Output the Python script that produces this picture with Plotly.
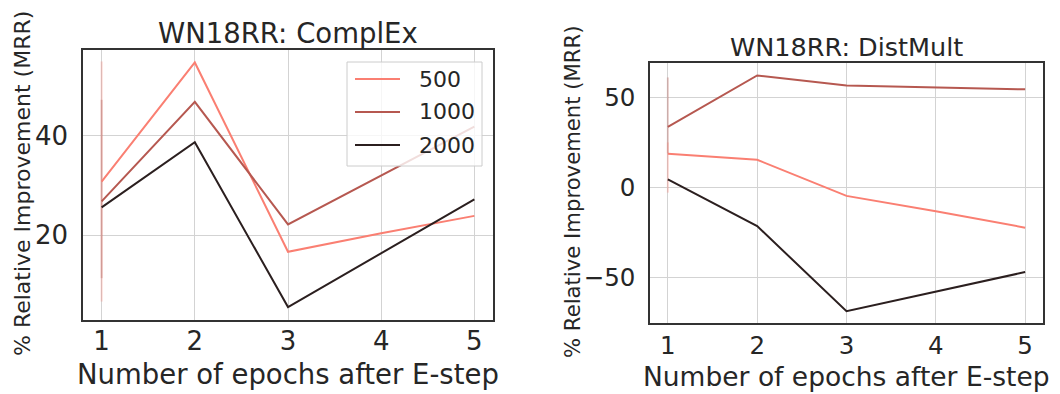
import plotly.graph_objects as go

epochs = [1, 2, 3, 4, 5]
series_names = ["500", "1000", "2000"]
colors = ["#fa7f72", "#b65850", "#2b1f1f"]

complex_vals = {
    "500": [30.8, 54.7, 16.7, 20.4, 23.9],
    "1000": [26.8, 46.8, 22.2, 32.0, 41.8],
    "2000": [25.6, 38.7, 5.6, 16.4, 27.2],
}
complex_err = {"500": [6.7, 54.9], "1000": [11.4, 47.2]}

distmult_vals = {
    "500": [18.7, 15.4, -4.6, -13.1, -22.2],
    "1000": [33.6, 62.1, 56.5, 55.4, 54.4],
    "2000": [4.6, -21.3, -68.5, -57.8, -46.8],
}
distmult_err = {"1000": [19.0, 61.0], "500": [-2.8, 25.0]}

titles = ["WN18RR: ComplEx", "WN18RR: DistMult"]
x_label = "Number of epochs after E-step"
y_label = "% Relative Improvement (MRR)"

W, H = 1060, 394
TXT = "#262626"
fig = go.Figure()

for name, rng in complex_err.items():
    c = colors[series_names.index(name)]
    fig.add_trace(go.Scatter(x=[1, 1], y=rng, mode="lines", line=dict(color=c, width=2),
                             opacity=0.3, showlegend=False, hoverinfo="skip", xaxis="x", yaxis="y"))
for name, rng in distmult_err.items():
    c = colors[series_names.index(name)]
    fig.add_trace(go.Scatter(x=[1, 1], y=rng, mode="lines", line=dict(color=c, width=2),
                             opacity=0.3, showlegend=False, hoverinfo="skip", xaxis="x2", yaxis="y2"))

for name, c in zip(series_names, colors):
    fig.add_trace(go.Scatter(x=epochs, y=complex_vals[name], mode="lines", name=name,
                             line=dict(color=c, width=2), xaxis="x", yaxis="y", showlegend=False))
for name, c in zip(series_names, colors):
    fig.add_trace(go.Scatter(x=epochs, y=distmult_vals[name], mode="lines", name=name,
                             line=dict(color=c, width=2), xaxis="x2", yaxis="y2", showlegend=False))


def ax(size, standoff):
    return dict(showline=True, mirror=True, linecolor="#333333", linewidth=1.5,
                showgrid=True, gridcolor="#d3d3d3", gridwidth=1, zeroline=False,
                ticks="", ticklabelstandoff=standoff,
                tickfont=dict(family="DejaVu Sans", size=size, color=TXT))


L = dict(x0=83, x1=493, y0=50, y1=320)
R = dict(x0=650, x1=1043, y0=63, y1=323)

fig.update_layout(
    width=W, height=H, margin=dict(l=0, r=0, t=0, b=0),
    plot_bgcolor="white", paper_bgcolor="white",
    font=dict(family="DejaVu Sans", color=TXT),
    xaxis=dict(domain=[L["x0"] / W, L["x1"] / W], range=[0.8, 5.2], tickvals=epochs,
               anchor="y", **ax(26, -3)),
    yaxis=dict(domain=[1 - L["y1"] / H, 1 - L["y0"] / H], range=[3.0, 57.2], tickvals=[20, 40],
               anchor="x", **ax(26, 8)),
    xaxis2=dict(domain=[R["x0"] / W, R["x1"] / W], range=[0.8, 5.2], tickvals=epochs,
                anchor="y2", **ax(24.5, 0)),
    yaxis2=dict(domain=[1 - R["y1"] / H, 1 - R["y0"] / H], range=[-75, 69], tickvals=[-50, 0, 50],
                anchor="x2", **ax(24.5, 8)),
    showlegend=False,
)

ann = []
shapes = []
for t, P, cy, ts, xs, xy in [(titles[0], L, 33, 27.5, 27.5, 374), (titles[1], R, 47, 25.5, 26.5, 376)]:
    ann.append(dict(text=t, x=(P["x0"] + P["x1"]) / 2 / W, y=1 - cy / H, xref="paper", yref="paper",
                    xanchor="center", yanchor="middle", showarrow=False,
                    font=dict(size=ts, family="DejaVu Sans", color=TXT)))
    ann.append(dict(text=x_label, x=(P["x0"] + P["x1"]) / 2 / W, y=1 - xy / H, xref="paper", yref="paper",
                    xanchor="center", yanchor="middle", showarrow=False,
                    font=dict(size=xs, family="DejaVu Sans", color=TXT)))
for cx, cy, fs in [(22, 184, 22), (572, 192, 21.2)]:
    ann.append(dict(text=y_label, x=cx / W, y=1 - cy / H, xref="paper", yref="paper",
                    xanchor="center", yanchor="middle", showarrow=False, textangle=-90,
                    font=dict(size=fs, family="DejaVu Sans", color=TXT)))

# legend (manual, matplotlib-like)
shapes.append(dict(type="rect", xref="paper", yref="paper",
                   x0=347 / W, x1=482 / W, y0=1 - 166 / H, y1=1 - 62 / H,
                   fillcolor="rgba(255,255,255,0.8)", line=dict(color="#cccccc", width=1), layer="above"))
for i, (name, c) in enumerate(zip(series_names, colors)):
    yy = 79 + 33 * i
    shapes.append(dict(type="line", xref="paper", yref="paper", x0=355 / W, x1=400 / W,
                       y0=1 - yy / H, y1=1 - yy / H, line=dict(color=c, width=2), layer="above"))
    ann.append(dict(text=name, x=417 / W, y=1 - yy / H, xref="paper", yref="paper",
                    xanchor="left", yanchor="middle", showarrow=False,
                    font=dict(size=22, family="DejaVu Sans", color=TXT)))

fig.update_layout(annotations=ann, shapes=shapes)
fig.write_html("out.html")
